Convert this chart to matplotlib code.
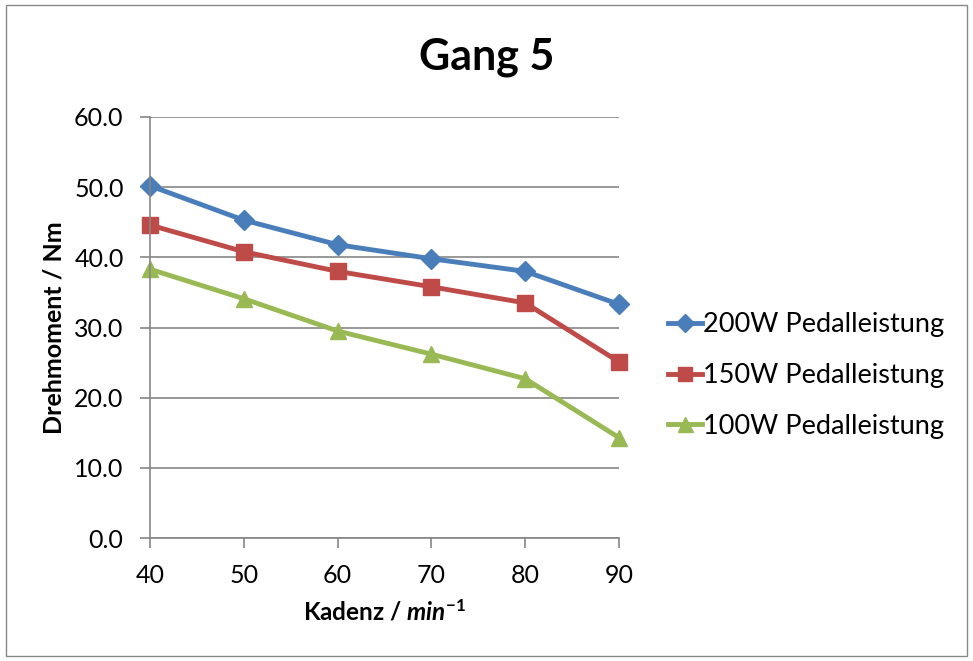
import matplotlib
matplotlib.use("Agg")
import matplotlib.pyplot as plt
from matplotlib.patches import Rectangle

plt.rcParams['font.family'] = ['Lato', 'DejaVu Sans']
plt.rcParams['mathtext.fontset'] = 'custom'
plt.rcParams['mathtext.it'] = 'Lato:italic:bold'
plt.rcParams['mathtext.rm'] = 'Lato:bold'
plt.rcParams['mathtext.bf'] = 'Lato:bold'

kadenz = [40, 50, 60, 70, 80, 90]
p200 = [50.2, 45.3, 41.8, 39.8, 38.0, 33.3]
p150 = [44.6, 40.8, 38.0, 35.8, 33.5, 25.1]
p100 = [38.3, 34.1, 29.5, 26.2, 22.7, 14.3]
labels = ["200W Pedalleistung", "150W Pedalleistung", "100W Pedalleistung"]
yticks = [0, 10, 20, 30, 40, 50, 60]

fig = plt.figure(figsize=(9.73, 6.61), dpi=100)
fig.patches.append(Rectangle((0.006, 0.008), 0.988, 0.984, transform=fig.transFigure,
                             fill=False, edgecolor='#888888', linewidth=1.0))
ax = fig.add_axes([150/973, 1-538/661, (619-150)/973, (538-117)/661])

ax.plot(kadenz, p200, color='#4A7EBB', lw=3.5, marker='D', ms=10, label=labels[0])
ax.plot(kadenz, p150, color='#BE4B48', lw=3.5, marker='s', ms=11, label=labels[1])
ax.plot(kadenz, p100, color='#98B954', lw=3.5, marker='^', ms=12, label=labels[2])

ax.set_xlim(40, 90)
ax.set_ylim(0, 60)
ax.set_xticks(kadenz)
ax.set_yticks(yticks)
ax.set_yticklabels([f"{v:.1f}" for v in yticks])
ax.tick_params(axis='both', labelsize=18, color='#868686', length=7, width=1.2)
ax.tick_params(axis='x', pad=12)
ax.tick_params(axis='y', pad=12)
ax.grid(axis='y', color='#868686', lw=1.2)
ax.set_axisbelow(True)
for s in ['top', 'right']:
    ax.spines[s].set_visible(False)
for s in ['left', 'bottom']:
    ax.spines[s].set_color('#868686')
    ax.spines[s].set_linewidth(1.2)
for l in ax.get_xticklines() + ax.get_yticklines():
    l.set_clip_on(False)
for line in ax.lines:
    line.set_clip_on(False)

fig.text(487/973, 1-57/661, "Gang 5", fontsize=31, fontweight='bold', ha='center', va='center')
ax.set_xlabel(r"Kadenz / $\mathit{min}^{\mathbf{-1}}$", fontsize=17.5, fontweight='bold', labelpad=8)
ax.set_ylabel("Drehmoment / Nm", fontsize=18, fontweight='bold', labelpad=6)

ax.legend(loc='center left', bbox_to_anchor=(1.105, 0.386), frameon=False, fontsize=19.5,
          handlelength=1.25, handletextpad=0.05, labelspacing=0.95, markerscale=0.9,
          borderaxespad=0, borderpad=0)

fig.savefig("out.png", dpi=100)
